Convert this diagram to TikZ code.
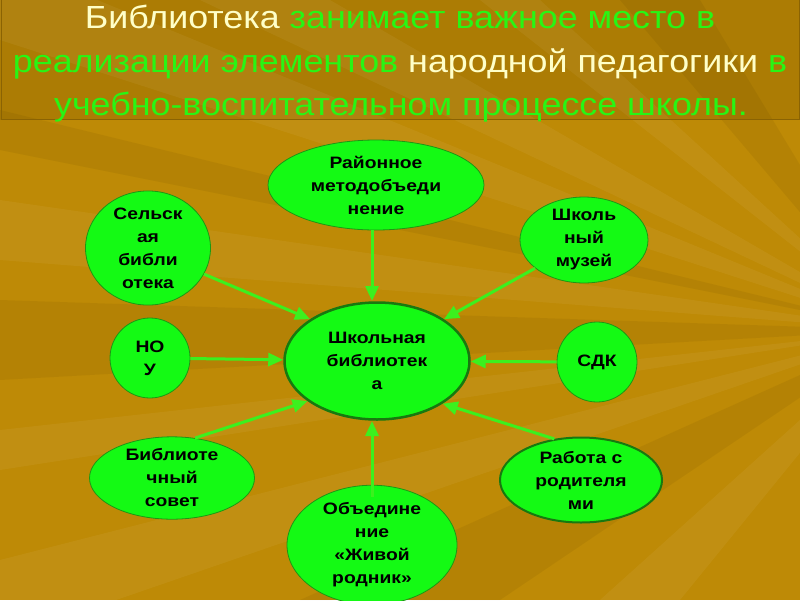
\documentclass[tikz,border=0pt]{standalone}
\usepackage{fontspec}
\setmainfont{Liberation Sans}
\newfontfamily\titlefont[FakeStretch=1.12]{Liberation Sans}
\newfontfamily\nodefont[FakeStretch=1.17]{Liberation Sans}
\usetikzlibrary{arrows.meta,shapes.geometric}
\definecolor{bg}{RGB}{190,138,6}
\definecolor{bgdark}{RGB}{172,124,4}
\definecolor{titley}{RGB}{255,255,200}
\definecolor{titleg}{RGB}{40,245,20}
\definecolor{nodefill}{RGB}{20,250,20}
\definecolor{nodeedge}{RGB}{30,150,20}
\definecolor{arrowc}{RGB}{60,240,30}
\tikzset{
  bubble/.style={ellipse, fill=nodefill, draw=nodeedge, line width=0.8pt, inner sep=0pt,
    font=\nodefont\fontsize{16.5}{23}\selectfont\bfseries, align=center, text=black},
  circ/.style={circle, fill=nodefill, draw=nodeedge, line width=0.8pt, inner sep=0pt,
    font=\nodefont\fontsize{16.5}{23}\selectfont\bfseries, align=center, text=black},
  link/.style={draw=arrowc, line width=3pt, -{Triangle[length=15pt,width=13pt]}},
  ray/.style={fill=white, opacity=0.05},
  dray/.style={fill=black, opacity=0.05},
  ttl/.style={font=\titlefont\fontsize{32}{44}\selectfont, inner sep=0pt, anchor=base}
}
\begin{document}
\begin{tikzpicture}[x=1pt,y=-1pt]
\useasboundingbox (0,0) rectangle (800,600);
% background
\fill[bg] (0,0) rectangle (800,600);
\fill[bgdark] (0,0) rectangle (800,120);
\begin{scope}
\clip (0,0) rectangle (800,600);
\fill[ray] (900,330) -- (0,-40) -- (0,40) -- cycle;
\fill[ray] (900,330) -- (200,0) -- (330,0) -- cycle;
\fill[ray] (900,330) -- (480,0) -- (540,0) -- cycle;
\fill[dray] (900,330) -- (620,0) -- (700,0) -- cycle;
\fill[ray] (900,330) -- (0,200) -- (0,260) -- cycle;
\fill[dray] (900,330) -- (0,300) -- (0,380) -- cycle;
\fill[ray] (900,330) -- (0,430) -- (0,470) -- cycle;
\fill[ray] (900,330) -- (0,560) -- (0,640) -- cycle;
\fill[dray] (900,330) -- (300,600) -- (500,600) -- cycle;
\fill[ray] (900,330) -- (600,600) -- (680,600) -- cycle;
\fill[dray] (900,330) -- (0,110) -- (0,150) -- cycle;
\end{scope}
\draw[bgdark!80!black, line width=0.6pt] (1,-1) rectangle (799,119);
% title
\node[ttl] (t1) at (400,28) {\textcolor{titley}{Библиотека} \textcolor{titleg}{занимает важное место в}};
\node[ttl] (t2) at (400,72) {\textcolor{titleg}{реализации элементов} \textcolor{titley}{народной педагогики} \textcolor{titleg}{в}};
\node[ttl] (t3) at (401,115) {\textcolor{titleg}{учебно-воспитательном процессе школы.}};
% nodes
\node[bubble, minimum width=185pt, minimum height=117pt, draw=nodeedge!80!black, line width=2.5pt] (c) at (377,361) {Школьная\\библиотек\\а};
\node[bubble, minimum width=216pt, minimum height=90pt] (r) at (376,185) {Районное\\методобъеди\\нение};
\node[bubble, minimum width=125pt, minimum height=72pt] (s) at (148,248) {Сельск\\ая\\библи\\отека};
\node[bubble, minimum width=128pt, minimum height=75pt] (m) at (584,240) {Школь\\ный\\музей};
\node[circ, minimum size=80pt] (n) at (150,358) {НО\\У};
\node[circ, minimum size=80pt] (d) at (597,362) {СДК};
\node[bubble, minimum width=165pt, minimum height=80pt] (b) at (172,478) {Библиоте\\чный\\совет};
\node[bubble, minimum width=162pt, minimum height=85pt, draw=nodeedge!80!black, line width=2pt] (p) at (581,480) {Работа с\\родителя\\ми};
\node[bubble, minimum width=170pt, minimum height=95pt] (o) at (372,545) {Объедине\\ние\\«Живой\\родник»};
% connectors
\coordinate (rS) at (372,230);
\coordinate (cN) at (372,301);
\draw[link] (rS) -- (cN);
\draw[link] (s.-25) -- (c.148);
\draw[link] (m.-150) -- (c.32);
\draw[link] (n) -- (c);
\draw[link] (d) -- (c);
\draw[link] (b.60) -- (c.-150);
\draw[link] (p.123) -- (c.-33);
\coordinate (oN) at (372,497);
\coordinate (cS) at (372,421);
\draw[link] (oN) -- (cS);
\end{tikzpicture}
\end{document}
